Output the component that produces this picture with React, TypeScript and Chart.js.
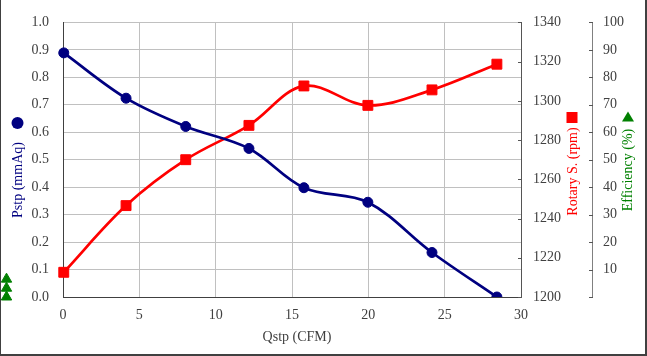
import React, { useEffect, useRef } from 'react';
import { Chart, registerables } from 'chart.js';

Chart.register(...registerables);

// ---- data ----
const flowCFM = [0.05, 4.13, 8.04, 12.18, 15.78, 19.97, 24.17, 28.42];
const pressure = [0.889, 0.724, 0.621, 0.541, 0.398, 0.345, 0.162, 0.0];
const rotarySpeed = [1212.6, 1246.6, 1270.0, 1287.5, 1307.6, 1297.7, 1305.6, 1318.7];
const efficiencyFlow = [-3.7, -3.7, -3.7];
const efficiency = [6.5, 3.2, 0];

const xTitle = 'Qstp (CFM)';
const pTitle = 'Pstp (mmAq)';
const rTitle = 'Rotary S. (rpm)';
const eTitle = 'Efficiency (%)';

const FONT = "'Liberation Serif', 'Times New Roman', serif";
const NAVY = '#000080';
const RED = '#ff0000';
const GREEN = '#008000';
const TEXT = '#404040';

const titlesPlugin = {
  id: 'axisTitlesAndTicks',
  afterDatasetsDraw(chart: any) {
    // efficiency points lie left of the plot area: draw their elements without the in-area check
    const ctx = chart.ctx as CanvasRenderingContext2D;
    const meta = chart.getDatasetMeta(2);
    const whole = { left: 0, top: 0, right: chart.width, bottom: chart.height };
    meta.data.forEach((p: any) => p.draw(ctx, whole));
  },
  afterDraw(chart: any) {
    const ctx = chart.ctx as CanvasRenderingContext2D;
    const y1 = chart.scales.y1;
    const y2 = chart.scales.y2;
    const area = chart.chartArea;
    ctx.save();
    ctx.strokeStyle = '#555555';
    ctx.lineWidth = 1;
    y1.ticks.forEach((t: any) => {
      const py = Math.round(y1.getPixelForValue(t.value)) + 0.5;
      ctx.beginPath();
      ctx.moveTo(y1.left, py);
      ctx.lineTo(y1.left - 3, py);
      ctx.stroke();
    });
    y2.ticks.forEach((t: any) => {
      const py = Math.round(y2.getPixelForValue(t.value)) + 0.5;
      ctx.beginPath();
      ctx.moveTo(y2.left + 1, py);
      ctx.lineTo(y2.left - 3, py);
      ctx.stroke();
    });

    // x axis title
    ctx.font = `14px ${FONT}`;
    ctx.fillStyle = TEXT;
    ctx.textAlign = 'center';
    ctx.textBaseline = 'middle';
    ctx.fillText(xTitle, (area.left + area.right) / 2 + 5, 337);

    const rot = (text: string, x: number, y: number, color: string) => {
      ctx.save();
      ctx.translate(x, y);
      ctx.rotate(-Math.PI / 2);
      ctx.font = `14px ${FONT}`;
      ctx.fillStyle = color;
      ctx.textAlign = 'center';
      ctx.textBaseline = 'middle';
      ctx.fillText(text, 0, 0);
      ctx.restore();
    };
    rot(pTitle, 17, 180, NAVY);
    rot(rTitle, y1.left + 52, 171.5, RED);
    rot(eTitle, y2.left + 36, 170, GREEN);

    // legend markers
    ctx.fillStyle = NAVY;
    ctx.beginPath();
    ctx.arc(16.5, 123, 6, 0, Math.PI * 2);
    ctx.fill();

    ctx.fillStyle = RED;
    ctx.fillRect(y1.left + 45.5, 112, 11, 11);

    ctx.fillStyle = GREEN;
    const tx = y2.left + 36;
    ctx.beginPath();
    ctx.moveTo(tx, 111.5);
    ctx.lineTo(tx - 6, 121.5);
    ctx.lineTo(tx + 6, 121.5);
    ctx.closePath();
    ctx.fill();
    ctx.restore();
  },
};

export default function App() {
  const ref = useRef<HTMLCanvasElement | null>(null);
  useEffect(() => {
    if (!ref.current) return;
    const tickFont = { family: FONT, size: 14 };
    const chart = new Chart(ref.current, {
      type: 'line',
      data: {
        datasets: [
          {
            label: pTitle,
            data: flowCFM.map((x, i) => ({ x, y: pressure[i] })),
            yAxisID: 'y',
            borderColor: NAVY,
            backgroundColor: NAVY,
            borderWidth: 2.7,
            tension: 0.35,
            pointStyle: 'circle',
            pointRadius: 5,
            pointBorderWidth: 1,
            pointBackgroundColor: NAVY,
            pointBorderColor: NAVY,
          },
          {
            label: rTitle,
            data: flowCFM.map((x, i) => ({ x, y: rotarySpeed[i] })),
            yAxisID: 'y1',
            borderColor: RED,
            backgroundColor: RED,
            borderWidth: 2.7,
            tension: 0.35,
            pointStyle: 'rect',
            pointRadius: 7,
            pointBorderWidth: 1,
            pointBackgroundColor: RED,
            pointBorderColor: RED,
          },
          {
            label: eTitle,
            data: efficiencyFlow.map((x, i) => ({ x, y: efficiency[i] })),
            yAxisID: 'y2',
            showLine: false,
            borderColor: GREEN,
            backgroundColor: GREEN,
            pointStyle: 'triangle',
            pointRadius: 6,
            pointBorderWidth: 1,
            pointBackgroundColor: GREEN,
            pointBorderColor: GREEN,
            clip: false as any,
          },
        ],
      },
      options: {
        animation: false,
        responsive: false,
        events: [],
        layout: { padding: { top: 18, left: 0, right: 0, bottom: 0 } },
        plugins: { legend: { display: false }, tooltip: { enabled: false } },
        scales: {
          x: {
            type: 'linear',
            position: 'bottom',
            afterDataLimits: (s: any) => { s.min = 0; s.max = 30; },
            afterFit: (s: any) => { s.height = 57; },
            ticks: { stepSize: 5, font: tickFont, color: TEXT, padding: 10, callback: (v: any) => String(v) },
            grid: { color: '#c0c0c0', lineWidth: 1, drawTicks: false },
            border: { color: '#404040', width: 1 },
          },
          y: {
            type: 'linear',
            position: 'left',
            min: 0,
            max: 1,
            afterFit: (s: any) => { s.width = 62; },
            ticks: { stepSize: 0.1, font: tickFont, color: TEXT, padding: 14, callback: (v: any) => Number(v).toFixed(1) },
            grid: { color: '#c0c0c0', lineWidth: 1, drawTicks: false },
            border: { color: '#404040', width: 1 },
          },
          y1: {
            type: 'linear',
            position: 'right',
            min: 1200,
            max: 1340,
            afterFit: (s: any) => { s.width = 71; },
            ticks: { stepSize: 20, font: tickFont, color: TEXT, padding: 12, callback: (v: any) => String(v) },
            grid: { display: false, drawTicks: false },
            border: { color: '#555555', width: 1 },
          },
          y2: {
            type: 'linear',
            position: 'right',
            min: 0,
            max: 100,
            afterFit: (s: any) => { s.width = 53; },
            ticks: { stepSize: 10, font: tickFont, color: TEXT, padding: 11, callback: (v: any) => (v === 0 ? '' : String(v)) },
            grid: { display: false, drawTicks: false },
            border: { color: '#808080', width: 1 },
          },
        },
      },
      plugins: [titlesPlugin],
    });
    return () => chart.destroy();
  }, []);

  return (
    <div
      style={{
        position: 'fixed',
        left: 0,
        top: 0,
        width: 647,
        height: 356,
        boxSizing: 'border-box',
        borderLeft: '1px solid #404040',
        borderRight: '2px solid #404040',
        borderBottom: '2px solid #404040',
        background: '#ffffff',
      }}
    >
      <canvas ref={ref} width={644} height={354} style={{ display: 'block', width: 644, height: 354 }} />
    </div>
  );
}
